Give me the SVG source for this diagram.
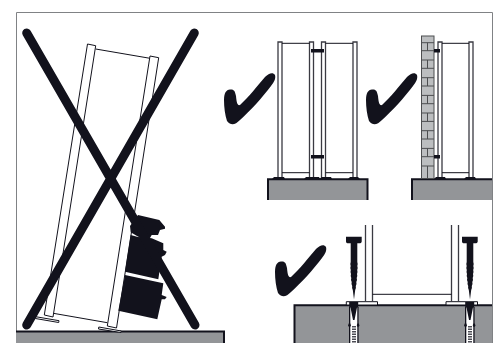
<svg xmlns="http://www.w3.org/2000/svg" width="500" height="343" viewBox="0 0 500 343">
<style>
.k{fill:#12121c}
.g{fill:#939598;stroke:none}
.e{fill:none;stroke:#12121c;stroke-width:2}
.p{fill:#fff;stroke:#12121c;stroke-width:1}
.q{fill:#fff;stroke:#3a3a42;stroke-width:1.300}
.w{fill:none;stroke:#12121c;stroke-width:1}
.x{fill:none;stroke:#12121c;stroke-width:9;stroke-linecap:round}
.b{fill:#bcbec0;stroke:#4d4e50;stroke-width:1}
.d{fill:none;stroke:#12121c;stroke-width:1.500;stroke-dasharray:1.500 1}
</style>
<defs>
<path id="tick" class="k" d="M0 27C0 20 2 17 6 16.500C10 16 11 18 12 23C12.500 28 13 33 16 32C24 25 34 12 41 4C45 0 49 -1 51 2C52 6 50 9 47 13C38 25 26 38 16 47C11 52 7 53 3 48C1 42 0 34 0 27Z"/>
<g id="bolt" class="k">
<path d="M-8 6.700H7.700V11.500C7.700 12.800 6.500 13.300 5 13.300H3.300V32L3.700 34 3.300 36 3.700 38 3.200 40 3.500 42 3 44 3.300 46 2.700 48 3 50 2.300 52 2.500 54 1.800 56 1.900 58 1.200 60 .7 64 0 69.500 -.7 64 -1.200 60 -1.900 58 -1.800 56 -2.500 54 -2.300 52 -3 50 -2.700 48 -3.300 46 -3 44 -3.500 42 -3.200 40 -3.700 38 -3.300 36 -3.700 34 -3.300 32V13.300H-5.500C-7 13.300 -8 12.800 -8 11.500Z"/>
</g>
<g id="anchor">
<path fill="#fff" d="M-4.300 77H4V113H-4.300Z"/>
<path class="k" d="M-4.800 72H4.200V77.500H3L.5 90-1 90-3.500 77.500H-4.800Z"/>
<path class="k" d="M-5 77H-3.700V93L-3 95.500-3.700 97V113H-5V97L-6 95.500-5 93ZM3.300 77H4.600V93L5.500 95.500 4.600 97V113H3.300V97L2.800 95.500 3.300 93Z"/>
<path class="d" d="M-1 96V113M1 96V113"/>
</g>
</defs>
<g id="frame"><path d="M16.500 331V12.500H492.500V343" fill="none" stroke="#808285" stroke-width="1"/></g>
<g id="panel-wrong">
<rect class="g" x="16" y="331" width="208.500" height="12"/>
<path class="e" d="M16 331.500H224V343" stroke-width="1.500"/>
<path class="w" d="M95.700 49 150 58.300M53.300 313.300 107.300 322.700"/>
<path class="p" d="M87.500 44 95.700 45.700 53 317 44.300 315Z"/>
<path class="p" d="M150 56 158.700 57.700 116.500 328 107.300 326Z"/>
<path class="p" d="M35.700 316.700 59 320.700 58.700 322.500 35.400 318.500Z"/>
<path class="p" d="M98.800 327 121.300 331 121 332.500 98.500 329Z"/>
<path class="k" d="M138 215 159.300 220 165 226.700 165 228.700 160 230 158 235 151.700 235 150 238 142 237 138.300 236.700 130.700 232.300 130 226Z"/>
<path class="k" d="M130.700 235 138 237 151.700 238.300 163.300 243.300 163.300 250 166.700 251.700 165 255 161.700 256.700 158.300 279.300 125 271.700Z"/>
<path class="k" d="M125 275 163.300 283.300 161.700 295 166.700 297 165 299.300 161.700 299.300 157.300 319.300 118.300 310.700Z"/>
<path class="x" d="M26.700 33 195 325M194.300 33 26.700 325"/>
</g>
<g id="panel-double">
<use href="#tick" x="224" y="73"/>
<rect class="g" x="268" y="179" width="100" height="21"/>
<path class="e" d="M268 200V179.200H367.500V200"/>
<path class="q" d="M278 42H282V178H278ZM309.500 42H313.500V178H309.500ZM321.500 42H325.500V178H321.500ZM353 42H357V178H353Z"/>
<path class="w" d="M282 43.300H309.500M325.500 43.300H353M282 172.700H309.500M325.500 172.700H353"/>
<rect class="k" x="311" y="49" width="13" height="3.500"/>
<rect class="k" x="311" y="155" width="13" height="3.500"/>
<path class="k" d="M272 179 274 177 284 177 285 179ZM304 179 306 177 319 177 320 179ZM319 179 322 177 331 177 332 179ZM348 179 350 177 358 177 360 179Z"/>
</g>
<g id="panel-wall">
<use href="#tick" x="366" y="73"/>
<rect class="g" x="412" y="179" width="80" height="21"/>
<path class="e" d="M412 200V179.200H492"/>
<rect class="b" x="421.500" y="36" width="12.500" height="142.500"/>
<path d="M421.500 42.700H434M421.500 50.700H434M421.500 60H434M421.500 68.300H434M421.500 77.700H434M421.500 86H434M421.500 95.400H434M421.500 103.700H434M421.500 113H434M421.500 121.400H434M421.500 130.700H434M421.500 139H434M421.500 148.400H434M421.500 156.700H434M421.500 166H434M427.500 42.700V50.700M427.500 60V68.300M427.500 77.700V86M427.500 95.400V103.700M427.500 113V121.400M427.500 130.700V139M427.500 148.400V156.700M427.500 166V178" fill="none" stroke="#4d4e50" stroke-width="1"/>
<path class="q" d="M438 42H442V178H438ZM469 42H473V178H469Z"/>
<path class="w" d="M442 43.300H469M442 172.700H469"/>
<rect class="k" x="434" y="49" width="6" height="3.500"/>
<rect class="k" x="434" y="155" width="6" height="3.500"/>
<path class="k" d="M434 179 436 177 445 177 446 179ZM464 179 466 177 475 177 476 179Z"/>
</g>
<g id="panel-anchor">
<use href="#tick" x="275" y="245"/>
<rect class="g" x="294" y="305" width="198" height="38"/>
<path class="e" d="M294.500 343V305.300H492" stroke-width="1.500"/>
<path class="p" d="M346.300 301.700H377.500V305H346.300ZM446 301.700H477.500V305H446Z"/>
<path class="q" d="M365.500 225V302M372.500 225V302M451.500 225V302M458.500 225V302" fill="none"/>
<path class="w" d="M372.500 294.300H451.500"/>
<use id="bolt-left" href="#bolt" x="354" y="230"/>
<use id="anchor-left" href="#anchor" x="354" y="230"/>
<use id="bolt-right" href="#bolt" x="470" y="230"/>
<use id="anchor-right" href="#anchor" x="470" y="230"/>
</g>
</svg>
